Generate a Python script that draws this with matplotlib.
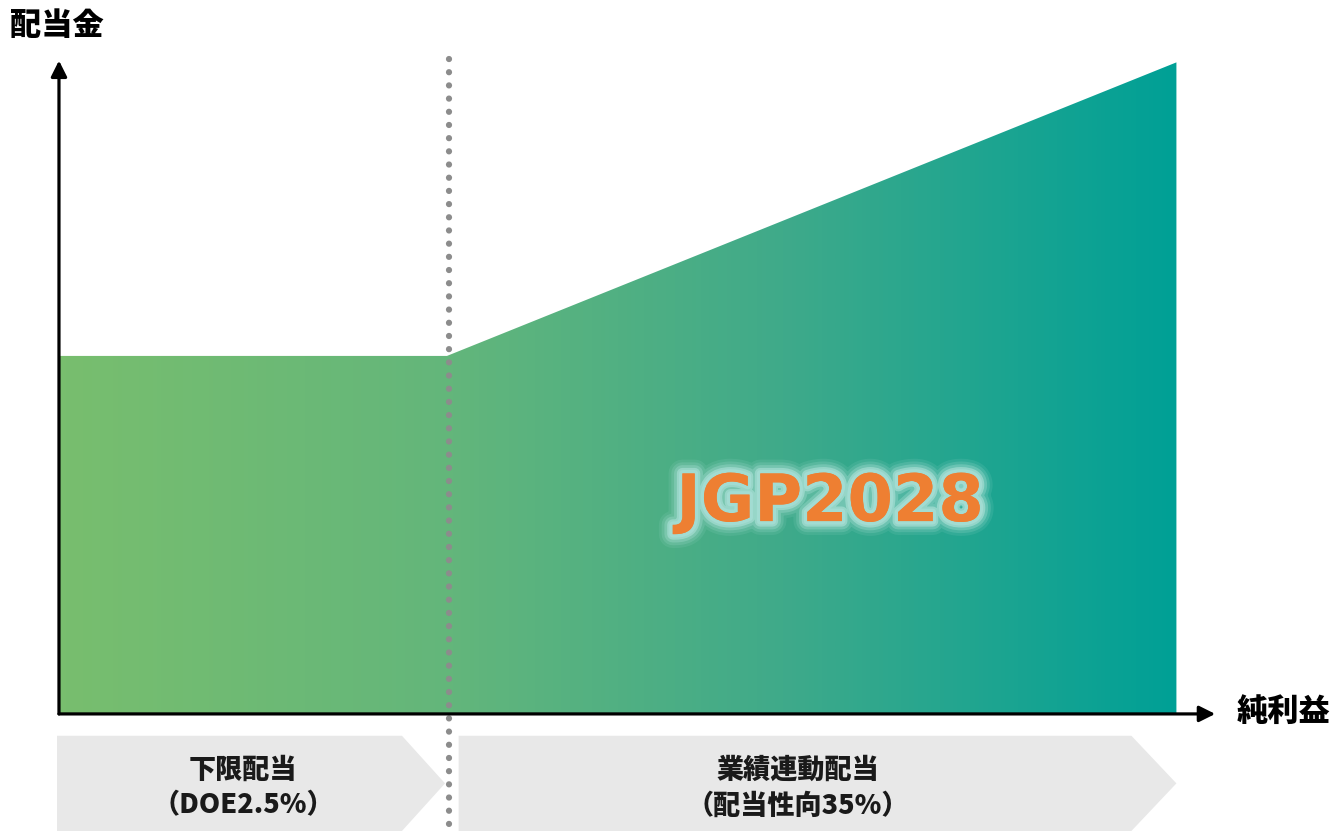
import numpy as np
import matplotlib.pyplot as plt
import matplotlib.patheffects as pe
from matplotlib.colors import LinearSegmentedColormap
from matplotlib.patches import Polygon

plt.rcParams['font.family'] = ['Noto Sans CJK JP', 'DejaVu Sans']

# data: net profit (x) vs dividend (y), floor dividend then payout-ratio linked
profit = [0.0, 1.0, 2.88]
dividend = [1.0, 1.0, 1.82]
break_x = profit[1]

y_label = '配当金'
x_label = '純利益'
left_label = ['下限配当', '（DOE2.5%）']
right_label = ['業績連動配当', '（配当性向35%）']
plan_name = 'JGP2028'

fig = plt.figure(figsize=(13.32, 8.37), dpi=100)
ax = fig.add_axes([0, 0, 1, 1])
ax.set_xlim(-0.152, 3.281)
ax.set_ylim(-0.341, 1.997)
ax.axis('off')

# gradient filled area
cmap = LinearSegmentedColormap.from_list(
    'jgp', [(0.0, '#78BE6E'), (0.35, '#63B67B'), (0.65, '#3FAA8A'), (1.0, '#00A096')])
poly = ax.fill_between(profit, 0, dividend, color='none', lw=0)
grad = np.linspace(0, 1, 256).reshape(1, -1)
img = ax.imshow(grad, cmap=cmap, aspect='auto', interpolation='bicubic',
                extent=[profit[0], profit[-1], 0, max(dividend)], zorder=1)
img.set_clip_path(poly.get_paths()[0], transform=ax.transData)

# bottom chevrons
y_top, y_bot = -0.061, -0.327
y_mid = (y_top + y_bot) / 2
notch = 0.116
left_chev = [(-0.005, y_top), (break_x - notch, y_top), (break_x - 0.005, y_mid),
             (break_x - notch, y_bot), (-0.005, y_bot)]
right_chev = [(1.03, y_top), (profit[-1] - notch, y_top), (profit[-1], y_mid),
              (profit[-1] - notch, y_bot), (1.03, y_bot)]
for pts in (left_chev, right_chev):
    ax.add_patch(Polygon(pts, closed=True, facecolor='#E8E8E8', edgecolor='none', zorder=0))

for cx, lines in ((0.474, left_label), (1.905, right_label)):
    ax.text(cx, -0.153, lines[0], ha='center', va='center', fontsize=19.5,
            fontweight='black', color='#1a1a1a', zorder=5)
    ax.text(cx, -0.252, lines[1], ha='center', va='center', fontsize=19.5,
            fontweight='black', color='#1a1a1a', zorder=5)

# dotted divider
ax.plot([break_x + 0.005, break_x + 0.005], [1.83, -0.4], color='#8C8C8C', lw=4.5,
        linestyle=(0, (0.01, 2.1)), dash_capstyle='round', zorder=4, clip_on=False)

# axes with arrows
arrow = dict(arrowstyle='-|>', lw=2.3, color='black', mutation_scale=24,
             shrinkA=0, shrinkB=0)
ax.annotate('', xy=(0, 1.825), xytext=(0, 0), arrowprops=arrow, zorder=6)
ax.annotate('', xy=(2.98, 0), xytext=(0, 0), arrowprops=arrow, zorder=6)

ax.text(-0.005, 1.927, y_label, ha='center', va='center', fontsize=22.5,
        fontweight='black', color='black')
ax.text(3.155, 0.011, x_label, ha='center', va='center', fontsize=22.5,
        fontweight='black', color='black')

# plan name with soft glow
glow = [pe.withStroke(linewidth=20, foreground='#A6DED3', alpha=0.12),
        pe.withStroke(linewidth=16, foreground='#A6DED3', alpha=0.2),
        pe.withStroke(linewidth=12, foreground='#A6DED3', alpha=0.35),
        pe.withStroke(linewidth=8, foreground='#A6DED3', alpha=0.7),
        pe.withStroke(linewidth=5, foreground='#A2DCD2', alpha=1.0),
        pe.Normal()]
ax.text(1.987, 0.589, plan_name, ha='center', va='center', fontsize=47,
        fontweight='bold', family='DejaVu Sans', color='#EE7F32',
        path_effects=glow, zorder=7)

fig.savefig('out.png', dpi=100)
